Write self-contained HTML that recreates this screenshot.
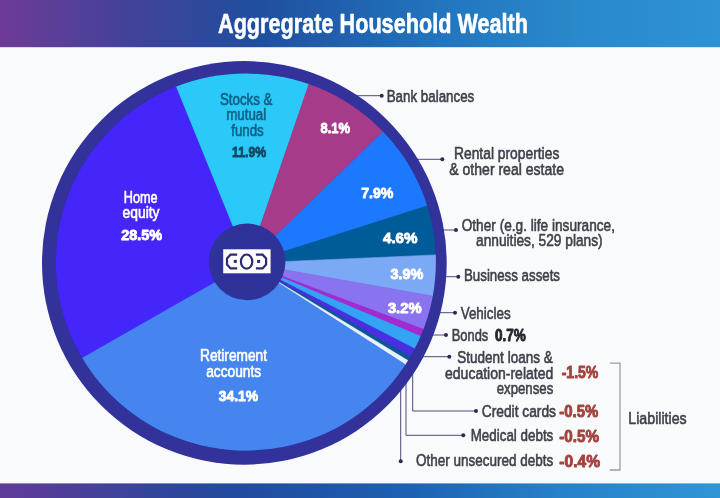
<!DOCTYPE html>
<html><head><meta charset="utf-8"><style>
html,body{margin:0;padding:0;background:#f9fafc;}
body{width:720px;height:498px;overflow:hidden;}
svg{display:block;font-family:"Liberation Sans",sans-serif;}
</style></head><body>
<svg width="720" height="498" viewBox="0 0 720 498">
<defs>
<linearGradient id="hg" x1="0" x2="1" y1="0" y2="0">
<stop offset="0" stop-color="#6e3b97"/>
<stop offset="0.2" stop-color="#3d4399"/>
<stop offset="0.36" stop-color="#1f4f9f"/>
<stop offset="0.62" stop-color="#2276bf"/>
<stop offset="0.8" stop-color="#2a89ca"/>
<stop offset="1" stop-color="#2e92d3"/>
</linearGradient>
<linearGradient id="fg" x1="0" x2="1" y1="0" y2="0">
<stop offset="0" stop-color="#603b99"/>
<stop offset="0.11" stop-color="#4a3f99"/>
<stop offset="0.25" stop-color="#2c469c"/>
<stop offset="0.34" stop-color="#214b9f"/>
<stop offset="0.56" stop-color="#1d60b1"/>
<stop offset="0.78" stop-color="#2682c9"/>
<stop offset="1" stop-color="#2f95d5"/>
</linearGradient>
<filter id="bl" x="-5%" y="-5%" width="110%" height="110%"><feGaussianBlur stdDeviation="0.45"/></filter>
<clipPath id="ic"><ellipse cx="245.90" cy="262.10" rx="190.00" ry="188.60"/></clipPath>
</defs>
<rect x="0" y="0" width="720" height="498" fill="#f9fafc"/>
<rect x="0" y="0" width="720" height="47.2" fill="url(#hg)"/>
<rect x="0" y="483.4" width="720" height="14.6" fill="url(#fg)"/>
<g filter="url(#bl)">

<g stroke="#4a4a7c" stroke-width="1" fill="none">
<path d="M350,95.7H381.7"/>
<path d="M410,159.3H442.3"/>
<path d="M435,230H456"/>
<path d="M435,276.7H458.3"/>
<path d="M430,312.7H455"/>
<path d="M420,335H446"/>
<path d="M410,356.7H449.3"/>
<path d="M412.7,370V411H476"/>
<path d="M406,375V435.3H463.3"/>
<path d="M400.7,380V461.3"/>
</g>
<g fill="#2a2a55">
<circle cx="381.7" cy="95.7" r="2"/>
<circle cx="442.3" cy="159.3" r="2"/>
<circle cx="456" cy="230" r="2"/>
<circle cx="458.3" cy="276.7" r="2"/>
<circle cx="455" cy="312.7" r="2"/>
<circle cx="446" cy="335" r="2"/>
<circle cx="449.3" cy="356.7" r="2"/>
<circle cx="476" cy="411" r="2"/>
<circle cx="463.3" cy="435.3" r="2"/>
<circle cx="400.7" cy="461.3" r="2"/>
</g>
<path d="M609.8,363.2H620V470H609.8" stroke="#9c9ca8" stroke-width="1.3" fill="none"/>

<ellipse cx="244.35" cy="262.90" rx="202.35" ry="201.80" fill="#30309a"/>
<g clip-path="url(#ic)">
<path d="M247.50,263.20 L149.60,22.34 L169.07,15.31 L189.03,9.86 L209.37,6.01 L229.95,3.79 L250.64,3.22 L271.31,4.29 L291.82,7.01 L312.06,11.34 L331.89,17.28Z" fill="#2cc9f8" stroke="#2cc9f8" stroke-width="0.6"/>
<path d="M247.50,263.20 L331.89,17.28 L350.88,24.64 L369.24,33.46 L386.85,43.70 L403.61,55.28 L419.41,68.14 L434.15,82.20Z" fill="#a63a8a" stroke="#a63a8a" stroke-width="0.6"/>
<path d="M247.50,263.20 L434.15,82.20 L447.50,97.07 L459.67,112.92 L470.59,129.66 L480.18,147.19 L488.41,165.40 L495.21,184.19Z" fill="#1e79fd" stroke="#1e79fd" stroke-width="0.6"/>
<path d="M247.50,263.20 L495.21,184.19 L499.89,200.75 L503.47,217.58 L505.92,234.61 L507.25,251.77Z" fill="#035c98" stroke="#035c98" stroke-width="0.6"/>
<path d="M247.50,263.20 L507.25,251.77 L507.39,270.81 L506.14,289.81 L503.49,308.66Z" fill="#7ba9f5" stroke="#7ba9f5" stroke-width="0.6"/>
<path d="M247.50,263.20 L503.49,308.66 L500.23,324.25 L496.02,339.61 L490.88,354.68Z" fill="#8973ee" stroke="#8973ee" stroke-width="0.6"/>
<path d="M247.50,263.20 L490.88,354.68 L487.01,364.37Z" fill="#a22bd0" stroke="#a22bd0" stroke-width="0.6"/>
<path d="M247.50,263.20 L487.01,364.37 L478.96,381.64Z" fill="#36a3f4" stroke="#36a3f4" stroke-width="0.6"/>
<path d="M247.50,263.20 L478.96,381.64 L472.89,392.81Z" fill="#4a2fe2" stroke="#4a2fe2" stroke-width="0.6"/>
<path d="M247.50,263.20 L472.89,392.81 L469.78,398.08Z" fill="#0d5796" stroke="#0d5796" stroke-width="0.6"/>
<path d="M247.50,263.20 L469.78,398.08 L466.29,403.66Z" fill="#e6f3fb" stroke="#e6f3fb" stroke-width="0.6"/>
<path d="M247.50,263.20 L466.29,403.66 L453.50,421.84 L439.19,438.85 L423.49,454.59 L406.50,468.92 L388.34,481.75 L369.16,492.98 L349.09,502.53 L328.28,510.33 L306.87,516.33 L285.03,520.48 L262.92,522.74 L240.69,523.11 L218.52,521.58 L196.55,518.16 L174.96,512.88 L153.90,505.77 L133.52,496.89 L113.98,486.30 L95.41,474.08 L77.95,460.31 L61.74,445.11 L46.88,428.58 L33.48,410.84 L21.66,392.02Z" fill="#4585f0" stroke="#4585f0" stroke-width="0.6"/>
<path d="M247.50,263.20 L21.66,392.02 L11.52,372.34 L3.09,351.88 L-3.57,330.77 L-8.40,309.17 L-11.39,287.24 L-12.49,265.13 L-11.72,243.01 L-9.06,221.04 L-4.54,199.37 L1.80,178.17 L9.92,157.58 L19.77,137.75 L31.26,118.84 L44.32,100.97 L58.86,84.28 L74.76,68.88 L91.91,54.89 L110.19,42.41 L129.47,31.54 L149.60,22.34Z" fill="#4527fa" stroke="#4527fa" stroke-width="0.6"/>
</g>

<circle cx="247.1" cy="261.9" r="38.3" fill="#2f3099"/>
<rect x="223.2" y="249.3" width="47.4" height="24" fill="#fff"/>
<g stroke="#2b2a78" stroke-width="2.2" fill="none" stroke-linejoin="miter">
<path d="M237.2,254.7H230.5L227,258.5V264.5L230.5,268.4H237.2"/>
<path d="M255.9,254.7H262.6L266.1,258.5V264.5L262.6,268.4H255.9"/>
<ellipse cx="246.6" cy="261.6" rx="5.7" ry="7.1"/>
</g>
<rect x="233.8" y="259.9" width="3" height="3" fill="#2b2a78"/>
<rect x="257.1" y="259.9" width="3" height="3" fill="#2b2a78"/>

<g>
<text x="218.0" y="33.4" font-size="28.5" fill="#ffffff" font-weight="bold" textLength="310.0" lengthAdjust="spacingAndGlyphs" stroke="#ffffff" stroke-width="0.6" stroke-linejoin="round">Aggregrate Household Wealth</text>
<text x="386.7" y="101.7" font-size="17" fill="#40404b" font-weight="normal" textLength="87.6" lengthAdjust="spacingAndGlyphs" stroke="#40404b" stroke-width="0.6" stroke-linejoin="round">Bank balances</text>
<text x="454.0" y="159.3" font-size="17" fill="#40404b" font-weight="normal" textLength="105.3" lengthAdjust="spacingAndGlyphs" stroke="#40404b" stroke-width="0.6" stroke-linejoin="round">Rental properties</text>
<text x="449.3" y="175.0" font-size="17" fill="#40404b" font-weight="normal" textLength="114.7" lengthAdjust="spacingAndGlyphs" stroke="#40404b" stroke-width="0.6" stroke-linejoin="round">&amp; other real estate</text>
<text x="461.7" y="230.7" font-size="17" fill="#40404b" font-weight="normal" textLength="153.3" lengthAdjust="spacingAndGlyphs" stroke="#40404b" stroke-width="0.6" stroke-linejoin="round">Other (e.g. life insurance,</text>
<text x="476.0" y="246.0" font-size="17" fill="#40404b" font-weight="normal" textLength="126.7" lengthAdjust="spacingAndGlyphs" stroke="#40404b" stroke-width="0.6" stroke-linejoin="round">annuities, 529 plans)</text>
<text x="464.0" y="281.0" font-size="17" fill="#40404b" font-weight="normal" textLength="96.0" lengthAdjust="spacingAndGlyphs" stroke="#40404b" stroke-width="0.6" stroke-linejoin="round">Business assets</text>
<text x="460.7" y="319.0" font-size="17" fill="#40404b" font-weight="normal" textLength="50.0" lengthAdjust="spacingAndGlyphs" stroke="#40404b" stroke-width="0.6" stroke-linejoin="round">Vehicles</text>
<text x="451.7" y="341.0" font-size="17" fill="#40404b" font-weight="normal" textLength="36.6" lengthAdjust="spacingAndGlyphs" stroke="#40404b" stroke-width="0.6" stroke-linejoin="round">Bonds</text>
<text x="495.0" y="341.0" font-size="16" fill="#26262f" font-weight="bold" textLength="30.7" lengthAdjust="spacingAndGlyphs" stroke="#26262f" stroke-width="0.9" stroke-linejoin="round">0.7%</text>
<text x="457.3" y="363.3" font-size="17" fill="#40404b" font-weight="normal" textLength="95.4" lengthAdjust="spacingAndGlyphs" stroke="#40404b" stroke-width="0.6" stroke-linejoin="round">Student loans &amp;</text>
<text x="445.0" y="379.3" font-size="17" fill="#40404b" font-weight="normal" textLength="108.3" lengthAdjust="spacingAndGlyphs" stroke="#40404b" stroke-width="0.6" stroke-linejoin="round">education-related</text>
<text x="496.7" y="394.3" font-size="17" fill="#40404b" font-weight="normal" textLength="56.6" lengthAdjust="spacingAndGlyphs" stroke="#40404b" stroke-width="0.6" stroke-linejoin="round">expenses</text>
<text x="561.7" y="378.3" font-size="16" fill="#a2443d" font-weight="bold" textLength="36.6" lengthAdjust="spacingAndGlyphs" stroke="#a2443d" stroke-width="0.9" stroke-linejoin="round">-1.5%</text>
<text x="481.7" y="416.5" font-size="17" fill="#40404b" font-weight="normal" textLength="74.3" lengthAdjust="spacingAndGlyphs" stroke="#40404b" stroke-width="0.6" stroke-linejoin="round">Credit cards</text>
<text x="559.3" y="416.8" font-size="16" fill="#a2443d" font-weight="bold" textLength="39.0" lengthAdjust="spacingAndGlyphs" stroke="#a2443d" stroke-width="0.9" stroke-linejoin="round">-0.5%</text>
<text x="470.7" y="441.3" font-size="17" fill="#40404b" font-weight="normal" textLength="82.6" lengthAdjust="spacingAndGlyphs" stroke="#40404b" stroke-width="0.6" stroke-linejoin="round">Medical debts</text>
<text x="559.3" y="442.0" font-size="16" fill="#a2443d" font-weight="bold" textLength="39.7" lengthAdjust="spacingAndGlyphs" stroke="#a2443d" stroke-width="0.9" stroke-linejoin="round">-0.5%</text>
<text x="416.0" y="466.3" font-size="17" fill="#40404b" font-weight="normal" textLength="137.3" lengthAdjust="spacingAndGlyphs" stroke="#40404b" stroke-width="0.6" stroke-linejoin="round">Other unsecured debts</text>
<text x="559.3" y="467.3" font-size="16" fill="#a2443d" font-weight="bold" textLength="40.7" lengthAdjust="spacingAndGlyphs" stroke="#a2443d" stroke-width="0.9" stroke-linejoin="round">-0.4%</text>
<text x="628.3" y="424.1" font-size="17" fill="#40404b" font-weight="normal" textLength="58.4" lengthAdjust="spacingAndGlyphs" stroke="#40404b" stroke-width="0.6" stroke-linejoin="round">Liabilities</text>
<text x="220.0" y="105.0" font-size="16" fill="#0f5f86" font-weight="normal" textLength="52.5" lengthAdjust="spacingAndGlyphs" stroke="#0f5f86" stroke-width="0.6" stroke-linejoin="round">Stocks &amp;</text>
<text x="226.2" y="119.9" font-size="16" fill="#0f5f86" font-weight="normal" textLength="40.0" lengthAdjust="spacingAndGlyphs" stroke="#0f5f86" stroke-width="0.6" stroke-linejoin="round">mutual</text>
<text x="231.2" y="135.5" font-size="16" fill="#0f5f86" font-weight="normal" textLength="32.5" lengthAdjust="spacingAndGlyphs" stroke="#0f5f86" stroke-width="0.6" stroke-linejoin="round">funds</text>
<text x="232.0" y="157.2" font-size="15.3" fill="#0d4a66" font-weight="bold" textLength="34.2" lengthAdjust="spacingAndGlyphs" stroke="#0d4a66" stroke-width="0.9" stroke-linejoin="round">11.9%</text>
<text x="320.5" y="133.0" font-size="15.5" fill="#fff" font-weight="bold" textLength="29.5" lengthAdjust="spacingAndGlyphs" stroke="#fff" stroke-width="0.9" stroke-linejoin="round">8.1%</text>
<text x="361.2" y="198.3" font-size="15.5" fill="#fff" font-weight="bold" textLength="32.1" lengthAdjust="spacingAndGlyphs" stroke="#fff" stroke-width="0.9" stroke-linejoin="round">7.9%</text>
<text x="383.0" y="243.3" font-size="15.5" fill="#fff" font-weight="bold" textLength="34.5" lengthAdjust="spacingAndGlyphs" stroke="#fff" stroke-width="0.9" stroke-linejoin="round">4.6%</text>
<text x="390.4" y="278.7" font-size="15.5" fill="#fff" font-weight="bold" textLength="32.8" lengthAdjust="spacingAndGlyphs" stroke="#fff" stroke-width="0.9" stroke-linejoin="round">3.9%</text>
<text x="387.9" y="313.0" font-size="15.5" fill="#fff" font-weight="bold" textLength="33.7" lengthAdjust="spacingAndGlyphs" stroke="#fff" stroke-width="0.9" stroke-linejoin="round">3.2%</text>
<text x="123.8" y="202.5" font-size="16" fill="#fff" font-weight="normal" textLength="33.8" lengthAdjust="spacingAndGlyphs" stroke="#fff" stroke-width="0.6" stroke-linejoin="round">Home</text>
<text x="122.5" y="217.5" font-size="16" fill="#fff" font-weight="normal" textLength="37.0" lengthAdjust="spacingAndGlyphs" stroke="#fff" stroke-width="0.6" stroke-linejoin="round">equity</text>
<text x="121.2" y="239.5" font-size="15.5" fill="#fff" font-weight="bold" textLength="40.8" lengthAdjust="spacingAndGlyphs" stroke="#fff" stroke-width="0.9" stroke-linejoin="round">28.5%</text>
<text x="200.0" y="361.2" font-size="16" fill="#fff" font-weight="normal" textLength="67.0" lengthAdjust="spacingAndGlyphs" stroke="#fff" stroke-width="0.6" stroke-linejoin="round">Retirement</text>
<text x="206.2" y="377.0" font-size="16" fill="#fff" font-weight="normal" textLength="55.0" lengthAdjust="spacingAndGlyphs" stroke="#fff" stroke-width="0.6" stroke-linejoin="round">accounts</text>
<text x="218.8" y="401.2" font-size="15.5" fill="#fff" font-weight="bold" textLength="39.2" lengthAdjust="spacingAndGlyphs" stroke="#fff" stroke-width="0.9" stroke-linejoin="round">34.1%</text>
</g>
</g>
</svg>
</body></html>
